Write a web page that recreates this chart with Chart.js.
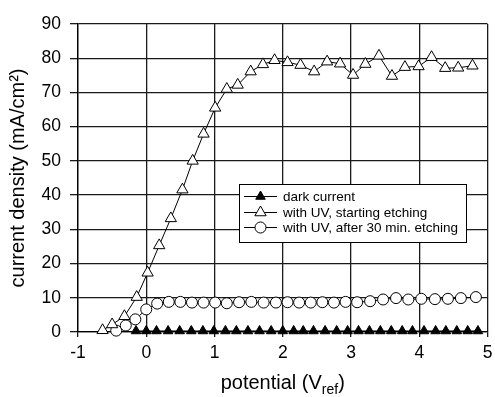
<!DOCTYPE html>
<html>
<head>
<meta charset="utf-8">
<script src="https://cdn.jsdelivr.net/npm/chart.js@4.4.1/dist/chart.umd.min.js"></script>
<style>
  html, body { margin: 0; padding: 0; background: #fff; }
  #wrap { width: 495px; height: 397px; }
</style>
</head>
<body>
<div id="wrap"><canvas id="chart"></canvas></div>
<script>
// dark current (filled triangles)
const darkX = [-0.15, 0.0, 0.15, 0.32, 0.49, 0.66, 0.83, 0.99, 1.16, 1.32, 1.49, 1.66, 1.83, 2.0, 2.16,
               2.3, 2.45, 2.62, 2.79, 2.95, 3.11, 3.27, 3.43, 3.59, 3.75, 3.9, 4.07, 4.24, 4.39, 4.55, 4.71, 4.86];
const darkY = [0.3, 0.3, 0.3, 0.3, 0.3, 0.3, 0.3, 0.3, 0.3, 0.3, 0.3, 0.3, 0.3, 0.3, 0.3,
               0.3, 0.3, 0.3, 0.3, 0.3, 0.3, 0.3, 0.3, 0.3, 0.3, 0.3, 0.3, 0.3, 0.3, 0.3, 0.3, 0.3];

// with UV, starting etching (open triangles)
const startX = [-0.64, -0.5, -0.32, -0.14, 0.02, 0.19, 0.36, 0.53, 0.68, 0.84, 1.01, 1.18, 1.34, 1.53, 1.71, 1.88,
                2.07, 2.26, 2.46, 2.65, 2.84, 3.03, 3.21, 3.41, 3.6, 3.79, 3.99, 4.18, 4.38, 4.57, 4.78];
const startY = [0.5, 2.2, 4.6, 10.2, 17.3, 25.3, 33.2, 41.6, 50, 57.9, 65.5, 71, 72.2, 76.1, 78.2, 79.4,
                78.8, 78, 76.1, 79, 78.4, 75.1, 78.3, 80.7, 74.8, 77.4, 77.6, 80.3, 77.1, 77.2, 77.8];

// with UV, after 30 min. etching (open circles)
const afterX = [-0.44, -0.3, -0.16, 0.0, 0.16, 0.33, 0.5, 0.67, 0.84, 1.01, 1.18, 1.36, 1.54, 1.72, 1.9,
                2.07, 2.24, 2.41, 2.58, 2.75, 2.92, 3.09, 3.28, 3.47, 3.66, 3.84, 4.03, 4.23, 4.42, 4.61, 4.83];
const afterY = [0.4, 1.9, 3.7, 6.6, 8.3, 8.8, 8.8, 8.6, 8.6, 8.6, 8.4, 8.7, 8.8, 8.6, 8.6,
                8.7, 8.6, 8.6, 8.7, 8.6, 8.8, 8.7, 9.0, 9.5, 9.9, 9.5, 9.7, 9.6, 9.7, 9.9, 10.2];

const seriesNames = ['dark current', 'with UV, starting etching', 'with UV, after 30 min. etching'];

const xTicks = [-1, 0, 1, 2, 3, 4, 5];
const yTicks = [0, 10, 20, 30, 40, 50, 60, 70, 80, 90];

const xTitle = 'potential (V';
const xTitleSub = 'ref';
const xTitleEnd = ')';
const yTitle = 'current density (mA/cm\u00B2)';

const FONT = '"Liberation Sans", Arial, Helvetica, sans-serif';

function pts(xs, ys) {
    return xs.map((x, i) => ({ x: x, y: ys[i] }));
}

// titles + legend box drawn by hand (subscript and in-plot legend)
const decorations = {
    id: 'decorations',
    afterDraw(chart) {
        const ctx = chart.ctx;
        const area = chart.chartArea;
        ctx.save();
        ctx.fillStyle = '#000';

        // x title with subscript
        ctx.font = '20px ' + FONT;
        const w1 = ctx.measureText(xTitle).width;
        ctx.font = '14px ' + FONT;
        const w2 = ctx.measureText(xTitleSub).width;
        ctx.font = '20px ' + FONT;
        const w3 = ctx.measureText(xTitleEnd).width;
        let tx = (area.left + area.right) / 2 - (w1 + w2 + w3) / 2;
        const ty = 389;
        ctx.textBaseline = 'alphabetic';
        ctx.textAlign = 'left';
        ctx.fillText(xTitle, tx, ty);
        ctx.font = '14px ' + FONT;
        ctx.fillText(xTitleSub, tx + w1, ty + 5);
        ctx.font = '20px ' + FONT;
        ctx.fillText(xTitleEnd, tx + w1 + w2, ty);

        // y title
        ctx.translate(18, (area.top + area.bottom) / 2);
        ctx.rotate(-Math.PI / 2);
        ctx.textAlign = 'center';
        ctx.textBaseline = 'middle';
        ctx.fillText(yTitle, 0, 0);
        ctx.restore();

        // legend
        ctx.save();
        const bx = 239, by = 184, bw = 227, bh = 58;
        ctx.fillStyle = '#fff';
        ctx.fillRect(bx, by, bw, bh);
        ctx.strokeStyle = '#000';
        ctx.lineWidth = 1;
        ctx.strokeRect(bx + 0.5, by + 0.5, bw, bh);
        const rows = [196, 212, 227];
        chart.data.datasets.forEach((ds, i) => {
            const y = rows[i];
            ctx.strokeStyle = '#000';
            ctx.lineWidth = 1;
            ctx.beginPath();
            ctx.moveTo(244, y + 0.5);
            ctx.lineTo(277, y + 0.5);
            ctx.stroke();
            ctx.fillStyle = ds.pointBackgroundColor;
            ctx.strokeStyle = '#000';
            Chart.helpers.drawPoint(ctx, {
                pointStyle: ds.pointStyle,
                radius: ds.pointRadius,
                borderWidth: 1,
                rotation: 0
            }, 260.5, y + 0.5);
            ctx.fillStyle = '#000';
            ctx.font = '13.5px ' + FONT;
            ctx.textAlign = 'left';
            ctx.textBaseline = 'middle';
            ctx.fillText(seriesNames[i], 283, y + 1);
        });
        ctx.restore();
    }
};

new Chart(document.getElementById('chart'), {
    type: 'scatter',
    data: {
        datasets: [
            {
                label: seriesNames[0],
                data: pts(darkX, darkY),
                showLine: true,
                borderColor: '#000',
                borderWidth: 1,
                pointStyle: 'triangle',
                pointRadius: 5.5,
                pointBackgroundColor: '#000',
                pointBorderColor: '#000',
                pointBorderWidth: 1,
                clip: false
            },
            {
                label: seriesNames[1],
                data: pts(startX, startY),
                showLine: true,
                borderColor: '#000',
                borderWidth: 1,
                pointStyle: 'triangle',
                pointRadius: 6.5,
                pointBackgroundColor: '#fff',
                pointBorderColor: '#000',
                pointBorderWidth: 1,
                clip: false
            },
            {
                label: seriesNames[2],
                data: pts(afterX, afterY),
                showLine: true,
                borderColor: '#000',
                borderWidth: 1,
                pointStyle: 'circle',
                pointRadius: 5.5,
                pointBackgroundColor: '#fff',
                pointBorderColor: '#000',
                pointBorderWidth: 1,
                clip: false
            }
        ]
    },
    options: {
        responsive: true,
        maintainAspectRatio: false,
        animation: false,
        layout: {
            padding: { top: 24, right: 4, left: 0, bottom: 0 }
        },
        scales: {
            x: {
                type: 'linear',
                min: -1,
                max: 5,
                afterBuildTicks: (scale) => { scale.ticks = xTicks.map(v => ({ value: v })); },
                afterFit: (scale) => {
                    scale.height = 65;
                    scale.paddingLeft = 0;
                    scale.paddingRight = 0;
                },
                ticks: {
                    color: '#000',
                    font: { family: FONT, size: 17.5 },
                    padding: 6
                },
                grid: {
                    color: '#1a1a1a',
                    lineWidth: 1.3,
                    tickLength: 5,
                    drawTicks: true
                },
                border: { color: '#000', width: 1.3 }
            },
            y: {
                type: 'linear',
                min: 0,
                max: 90,
                afterBuildTicks: (scale) => { scale.ticks = yTicks.map(v => ({ value: v })); },
                afterFit: (scale) => {
                    scale.width = 78;
                    scale.paddingTop = 0;
                    scale.paddingBottom = 0;
                    scale.paddingRight = 0;
                },
                ticks: {
                    color: '#000',
                    font: { family: FONT, size: 17.5 },
                    padding: 9
                },
                grid: {
                    color: '#1a1a1a',
                    lineWidth: 1.3,
                    tickLength: 8,
                    drawTicks: true
                },
                border: { color: '#000', width: 1.3 }
            }
        },
        plugins: {
            legend: { display: false },
            tooltip: { enabled: false }
        }
    },
    plugins: [decorations]
});
</script>
</body>
</html>
